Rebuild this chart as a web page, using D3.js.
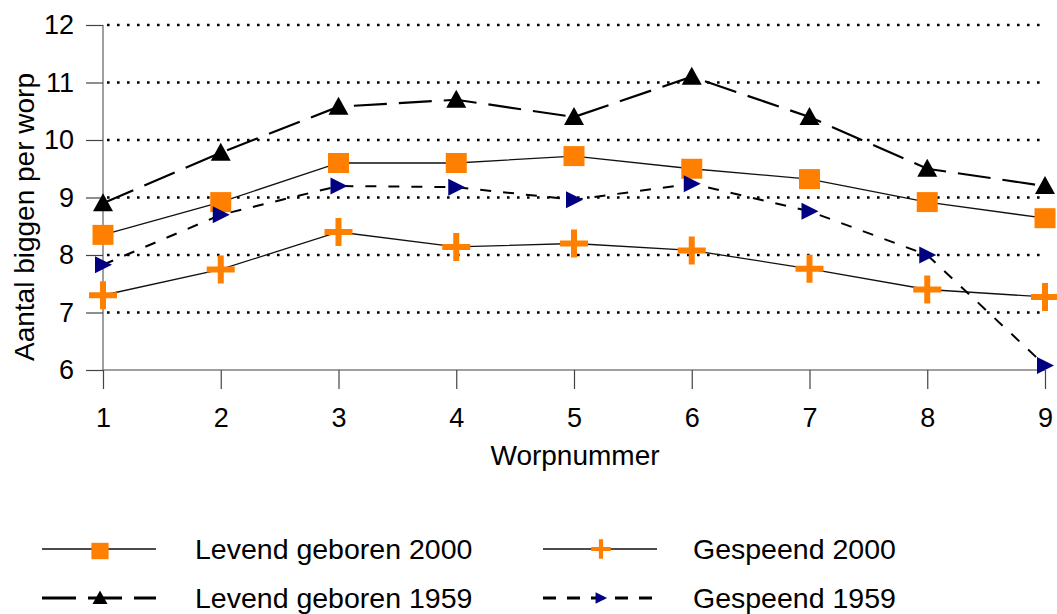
<!DOCTYPE html>
<html>
<head>
<meta charset="utf-8">
<script src="https://cdnjs.cloudflare.com/ajax/libs/d3/7.8.5/d3.min.js"></script>
<style>
  body { margin: 0; background: #fff; }
  svg { display: block; font-family: "Liberation Sans", Arial, sans-serif; }
  .grid line { stroke: #000; stroke-width: 2.6; stroke-dasharray: 2.6 7.4; }
  .axis path { stroke: #808080; stroke-width: 1.5; }
  .axis line { stroke: #444; stroke-width: 1.2; }
  .axis text { font-size: 27px; fill: #000; }
</style>
</head>
<body>
<svg id="chart" width="1057" height="614"></svg>
<script>
// Data
var worpnummer = [1, 2, 3, 4, 5, 6, 7, 8, 9]
var levend2000 = [8.35, 8.92, 9.6, 9.6, 9.72, 9.5, 9.32, 8.92, 8.64]
var gespeend2000 = [7.3, 7.75, 8.4, 8.14, 8.2, 8.08, 7.76, 7.4, 7.27]
var levend1959 = [8.9, 9.78, 10.58, 10.7, 10.4, 11.1, 10.4, 9.5, 9.2]
var gespeend1959 = [7.83, 8.7, 9.2, 9.18, 8.96, 9.24, 8.76, 8.0, 6.08]
var yTicks = [6, 7, 8, 9, 10, 11, 12]

var conf = {
  left: 103,
  right: 1045,
  top: 25,
  bottom: 370
}

var svg = d3.select('#chart')

var x = d3.scaleLinear().domain([1, 9]).range([conf.left, conf.right])
var y = d3.scaleLinear().domain([6, 12]).range([conf.bottom, conf.top])

// Gridlines
svg.append('g')
  .attr('class', 'grid')
  .selectAll('line')
  .data(yTicks.filter(function (d) { return d > 6 }))
  .enter()
  .append('line')
  .attr('x1', conf.left + 4)
  .attr('x2', conf.right)
  .attr('y1', function (d) { return y(d) })
  .attr('y2', function (d) { return y(d) })

// Axes
var yAxis = svg.append('g')
  .attr('class', 'axis')
  .attr('transform', 'translate(' + conf.left + ',0)')
  .call(d3.axisLeft(y).tickValues(yTicks).tickSize(17).tickPadding(12).tickFormat(d3.format('d')))
yAxis.select('.domain').attr('d', 'M0,' + conf.top + 'V' + conf.bottom)

var xAxis = svg.append('g')
  .attr('class', 'axis')
  .attr('transform', 'translate(0,' + conf.bottom + ')')
  .call(d3.axisBottom(x).tickValues(worpnummer).tickSize(19).tickPadding(19).tickFormat(d3.format('d')))
xAxis.select('.domain').attr('d', 'M' + conf.left + ',0H' + conf.right)

// Axis titles
svg.append('text')
  .attr('transform', 'translate(34,217) rotate(-90)')
  .attr('text-anchor', 'middle')
  .style('font-size', '28px')
  .text('Aantal biggen per worp')

svg.append('text')
  .attr('x', 575)
  .attr('y', 465)
  .attr('text-anchor', 'middle')
  .style('font-size', '28px')
  .text('Worpnummer')

// Series
var series = [
  { name: 'Levend geboren 2000', values: levend2000, stroke: '#111', width: 1.3, dash: null, legendDash: null, marker: 'square' },
  { name: 'Gespeend 2000', values: gespeend2000, stroke: '#111', width: 1.3, dash: null, legendDash: null, marker: 'plus' },
  { name: 'Levend geboren 1959', values: levend1959, stroke: '#000', width: 2.2, dash: '33 12', legendDash: '34 12', marker: 'triangle' },
  { name: 'Gespeend 1959', values: gespeend1959, stroke: '#000', width: 2, dash: '11 12', legendDash: '13 11', marker: 'arrow' }
]

var line = d3.line()
  .x(function (d, i) { return x(worpnummer[i]) })
  .y(function (d) { return y(d) })

function drawMarker (g, type, s) {
  if (type === 'square') {
    g.append('rect')
      .attr('x', -10.5 * s).attr('y', -10 * s)
      .attr('width', 21 * s).attr('height', 20 * s)
      .attr('fill', '#ff8000')
  } else if (type === 'plus') {
    g.append('path')
      .attr('d', 'M' + (-14 * s) + ',0H' + (14 * s) + 'M0,' + (-14 * s) + 'V' + (14 * s))
      .attr('stroke', '#ff8000')
      .attr('stroke-width', 6 * s)
  } else if (type === 'triangle') {
    g.append('path')
      .attr('d', 'M0,' + (-10 * s) + 'L' + (10 * s) + ',' + (8 * s) + 'L' + (-10 * s) + ',' + (8 * s) + 'Z')
      .attr('fill', '#000')
  } else if (type === 'arrow') {
    g.append('path')
      .attr('d', 'M' + (9 * s) + ',0L' + (-8 * s) + ',' + (-8.5 * s) + 'L' + (-8 * s) + ',' + (8.5 * s) + 'Z')
      .attr('fill', '#000080')
  }
}

series.forEach(function (sr) {
  svg.append('path')
    .datum(sr.values)
    .attr('fill', 'none')
    .attr('stroke', sr.stroke)
    .attr('stroke-width', sr.width)
    .attr('stroke-dasharray', sr.dash)
    .attr('d', line)
})

series.forEach(function (sr) {
  svg.append('g')
    .selectAll('g')
    .data(sr.values)
    .enter()
    .append('g')
    .attr('transform', function (d, i) { return 'translate(' + x(worpnummer[i]) + ',' + y(d) + ')' })
    .each(function () { drawMarker(d3.select(this), sr.marker, 1) })
})

// Legend
var legendPos = [
  { x: 42, y: 549 },
  { x: 543, y: 549 },
  { x: 42, y: 598 },
  { x: 543, y: 598 }
]
var legendScale = [0.82, 0.7, 0.75, 0.68]

var legend = svg.selectAll('g.legend')
  .data(series)
  .enter()
  .append('g')
  .attr('class', 'legend')
  .attr('transform', function (d, i) { return 'translate(' + legendPos[i].x + ',' + legendPos[i].y + ')' })

legend.append('line')
  .attr('x1', 0)
  .attr('x2', 114)
  .attr('stroke', function (d) { return d.stroke })
  .attr('stroke-width', function (d) { return d.legendDash ? 3 : 1.3 })
  .attr('stroke-dasharray', function (d) { return d.legendDash })

legend.append('g')
  .attr('transform', function (d, i) { return 'translate(58,' + (i === 0 ? 2 : 0) + ') scale(' + legendScale[i] + ')' })
  .each(function (d) { drawMarker(d3.select(this), d.marker, 1) })

legend.append('text')
  .attr('x', function (d, i) { return i % 2 === 0 ? 153 : 150 })
  .attr('y', 10)
  .style('font-size', '28.5px')
  .text(function (d) { return d.name })
</script>
</body>
</html>
